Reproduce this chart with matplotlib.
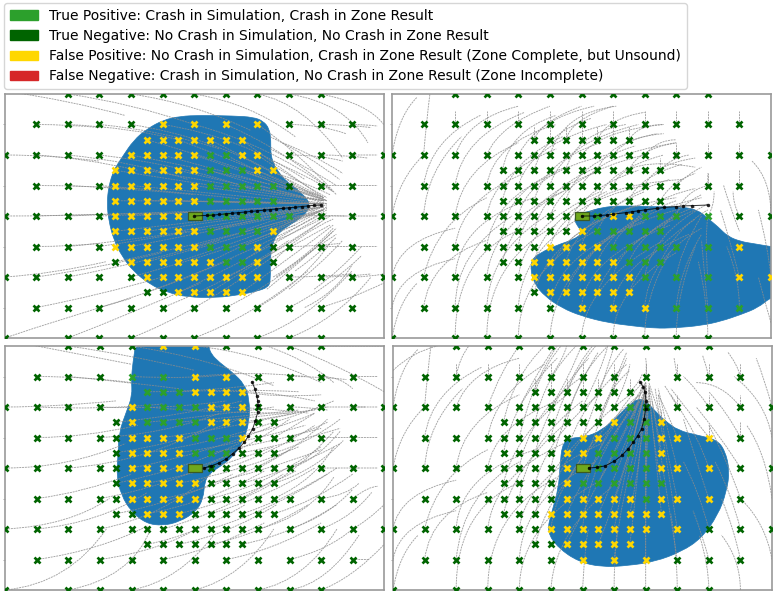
import matplotlib
matplotlib.use('Agg')
import matplotlib.pyplot as plt
from matplotlib.patches import Patch, PathPatch, Rectangle
from matplotlib.path import Path

W, H = 778, 597

legend_labels = ['True Positive: Crash in Simulation, Crash in Zone Result',
                 'True Negative: No Crash in Simulation, No Crash in Zone Result',
                 'False Positive: No Crash in Simulation, Crash in Zone Result (Zone Complete, but Unsound)',
                 'False Negative: Crash in Simulation, No Crash in Zone Result (Zone Incomplete)']

# start positions of the simulated cases, row by row
coarse = [-60, -50, -40, -30]
fine = [-25, -20, -15, -10, -5, 0, 5, 10, 15, 20, 25]
mid = [-15, -10, -5, 0, 5, 10, 15]
grid_rows = {40: [-40, -30, -20, -10, 0, 10, 20, 30, 40],
             30: [-50, -40, -30, -20, -10, 0, 10, 20, 30, 40, 50],
             25: mid,
             20: [-60, -50, -40, -30, -20] + mid + [20, 30, 40, 50, 60],
             15: fine,
             10: [-50, -40, -30] + fine + [30, 40, 50],
             5: fine,
             0: coarse + fine + [30, 40, 50, 60],
             -5: fine,
             -10: [-50, -40, -30] + fine + [30, 40, 50],
             -15: fine,
             -20: [-60, -50, -40, -30, -20] + mid + [20, 30, 40, 50, 60],
             -25: mid,
             -30: [-50, -40, -30, -20, -10, 0, 10, 20, 30, 40, 50],
             -40: [-60, -40, -30, -20, -10, 0, 10, 20, 30, 40]}

fp_1 = {30: [-10, 0, 10, 20], 25: mid, 20: [-20, -15, -10, -5, 0, 15, 20],
        15: [-25, -20, -15, -10, -5, 0, 20, 25], 10: [-25, -20, -15, -10, -5, 0],
        5: [-25, -20, -15, -10, -5, 0], 0: [-25, -20, -15, -10, -5],
        -5: [-25, -20, -15, -10, -5, 0, 25], -10: [-25, -20, -15, -10, -5, 0, 20],
        -15: [-20, -15, -10, -5, 0, 5, 20], -20: [-15, -10, -5, 0, 5, 10, 15, 20],
        -25: [-5, 0, 5, 10, 15]}
tp_1 = {20: [5, 10], 15: [5, 10, 15], 10: [5, 10, 15, 20, 25], 5: [5, 10, 15, 20, 25],
        0: [0, 5, 10, 15, 20, 25, 30], -5: [5, 10, 15, 20], -10: [5, 10, 15], -15: [10, 15]}

fp_2 = {0: [10, 15], -5: [0], -10: [-10, -5, 0, 5, 50], -15: [-15, -10, -5, 0, 5, 10],
        -20: [-15, -10, -5, 0, 5, 10, 15, 50, 60], -25: [-10, -5, 0, 5, 10, 15],
        -30: [0, 10, 20]}
tp_2 = {0: [0, 5, 20, 25, 30, 40], -5: [5, 10, 15, 20, 25], -10: [10, 15, 20, 25, 30, 40],
        -15: [15, 20, 25], -20: [20, 30, 40], -30: [30, 40, 50]}

fp_3 = {40: [-10, 0], 30: [0, 10], 25: [0, 5, 10, 15], 20: [-20, 5, 10, 15],
        15: [-20, 5, 10, 15], 10: [-20, -15, -10, -5, 15], 5: [-20, -15, -10, -5],
        0: [-20, -15, -10, -5], -5: [-20, -15, -10, -5, 0], -10: [-20, -15, -10, -5, 0],
        -15: [-15, -10, -5]}
tp_3 = {30: [-20, -10], 25: [-15, -10, -5], 20: [-15, -10, -5, 0], 15: [-15, -10, -5, 0],
        10: [0, 5, 10], 5: [0, 5, 10], 0: [0]}

fp_4 = {15: [10, 25], 10: [0, 5, 25, 30, 40], 5: [-5, 0, 25], 0: [-5, 25, 30, 40], -5: [-5],
        -10: [-5, 0, 5, 10, 15, 25, 30, 40], -15: [-10, -5, 0, 5, 10, 15, 20, 25],
        -20: [-10, -5, 0, 5, 10, 15, 20, 30], -25: [-5, 0, 5, 10, 15], -30: [0, 10, 20]}
tp_4 = {20: [15], 15: [15, 20], 10: [10, 15, 20], 5: [5, 10, 15, 20], 0: [0, 5, 10, 15, 20],
        -5: [0, 5, 10, 15, 20, 25], -10: [20]}

# zone outlines
zone_x_1 = [-9.7, -4.4, 1.9, 12.4, 18.7, 21.9, 23.8, 24.3, 24.2, 25.1, 26.6, 29.3, 32.4, 35.1, 36.6, 35.8, 33.5, 30.3, 27.2, 25.1, 24.0, 24.2, 23.5, 19.8, 14.5, 7.2, -2.3, -8.6, -13.9, -19.2, -22.8, -25.5, -27.1, -27.6, -27.1, -25.5, -22.8, -19.2, -14.9]
zone_y_1 = [31.5, 32.7, 33.0, 32.8, 32.4, 31.1, 28.6, 24.8, 20.4, 17.2, 14.5, 11.2, 9.0, 6.3, 4.1, 1.4, -0.8, -2.9, -5.1, -7.8, -13.3, -20.9, -23.3, -24.7, -25.8, -26.8, -26.6, -25.0, -22.5, -18.2, -13.3, -7.8, -1.3, 4.1, 9.6, 15.0, 19.3, 24.8, 28.6]
zone_x_2 = [2.1, 6.3, 12.6, 23.2, 31.6, 36.8, 40, 43.2, 46.3, 50.5, 54.7, 59.8, 61.5, 61.5, 59.8, 55.8, 50.5, 44.2, 37.9, 29.5, 23.2, 16.8, 8.4, 0, -6.3, -11.6, -14.7, -16.1, -15.8, -13.1, -7.7, -2.6, 0.5, -1.6, -2.3, -1.1]
zone_y_2 = [1.4, 2.8, 3.4, 3.0, 3.0, 2.0, -0.8, -3.5, -6.7, -8.4, -9.1, -10, -10.2, -26.5, -26.8, -30.1, -32.3, -34.5, -35.9, -36.7, -36.8, -36.1, -35, -32.8, -30.1, -26.3, -22.5, -18.2, -14.3, -12.1, -9.5, -7.8, -5.5, -2.9, -0.7, 0.7]
zone_x_3 = [-18.5, -19.6, -20.1, -19.8, -21.7, -24, -24.3, -24.8, -23.3, -20.1, -15.4, -10.1, -4.8, 0.4, 2.7, 3.1, 4.6, 7.8, 12, 15.2, 17.3, 17.3, 15.7, 12, 7.8, 5.2, 4.4, 4.2]
zone_y_3 = [42, 34.6, 29.1, 23.7, 18.3, 11.7, 4.1, -2.4, -8.9, -14.3, -18.2, -18.9, -17.6, -14.3, -10, -4.6, -1.8, 0.3, 3.6, 8.5, 15, 22.6, 27.5, 31.3, 34.6, 37.3, 39.8, 42]
zone_x_4 = [17.9, 20.3, 22.9, 26.1, 30.3, 36.6, 42.4, 45.1, 46.6, 45.6, 42.9, 37.7, 31.4, 22.9, 14.5, 6.1, -1.3, -7.6, -11.3, -9.7, -7.6, -7.1, -6.5, -4.4, 0.8, 6.1, 11.4, 15.1]
zone_y_4 = [22.8, 21.7, 18.8, 15.5, 12.3, 10.7, 9.3, 5.8, -0.8, -7.8, -15.4, -23, -27.4, -30.7, -32, -32.5, -30.7, -26.3, -20.9, -14.3, -6.7, 0.9, 7.4, 9.8, 10.1, 12.3, 17.2, 21]

# ego path
ego_x_1 = [0, 4, 6, 8, 10, 12, 14, 16, 18, 20, 22, 24, 26, 28, 30, 32, 34, 36, 38, 40]
ego_y_1 = [0, 0.2, 0.3, 0.5, 0.7, 0.9, 1.1, 1.3, 1.5, 1.7, 1.9, 2.1, 2.3, 2.5, 2.7, 2.9, 3.1, 3.3, 3.5, 3.6]
ego_x_2 = [0, 4, 6, 8, 10, 14, 16, 18, 20, 24, 26, 30, 32, 35, 40]
ego_y_2 = [0, 0, 0.2, 0.3, 0.6, 1.1, 1.4, 1.7, 2.0, 2.5, 2.8, 3.1, 3.3, 3.4, 3.6]
ego_x_3 = [3, 5, 7.8, 10, 12, 14, 15.7, 17, 18.3, 19.2, 19.9, 20, 19.9, 19.6, 19, 18.1]
ego_y_3 = [0, 0.6, 1.7, 3, 4.7, 6.5, 8.5, 10.5, 12.8, 15.5, 18.3, 20.5, 22, 23.7, 26, 28.3]
ego_x_4 = [1.9, 4.5, 7.2, 10, 12.4, 14.4, 16.1, 17.5, 18.7, 19.5, 20, 20.1, 19.8, 19.2, 18.2]
ego_y_4 = [0, 0.2, 0.7, 2.2, 4.1, 6.2, 8.5, 10.6, 12.8, 16, 19.3, 22, 24.8, 26.6, 28.3]

# simulated paths: x0, y0, xc, yc, x1, y1
trails_1 = [(-60, 41, -40, 38, -22, 33), (-40, 40, -20, 37, 0, 30), (-20, 40, 0, 37, 18, 28), (0, 40, 18, 37, 32, 26),
            (20, 40, 35, 37, 47, 19), (30, 40, 48, 37, 55, 24), (40, 40, 55, 37, 60, 30),
            (-50, 30, -40, 30, -30, 29), (-40, 30, -20, 29, -5, 25), (-30, 30, -10, 28, 8, 22), (-20, 30, 5, 26, 25, 14),
            (-10, 30, 15, 26, 35, 12), (0, 30, 22, 24, 43, 9), (10, 30, 28, 22, 44, 8), (20, 30, 32, 22, 45, 7),
            (30, 30, 40, 30, 48, 27), (40, 30, 48, 30, 56, 29), (50, 30, 54, 30, 58, 29.5),
            (-60, 20, -45, 20, -30, 18), (-50, 20, -35, 19, -18, 15), (-40, 20, -20, 18, -2, 12), (-30, 20, -5, 17, 18, 9),
            (-20, 20, 10, 14, 38, 7), (-10, 20, 15, 13, 41, 5.5), (0, 20, 20, 13, 42, 5), (10, 20, 25, 12, 42, 5), (20, 20, 30, 13, 42, 6),
            (30, 20, 40, 20, 47, 18), (40, 20, 48, 20, 55, 19), (50, 20, 54, 20, 58, 20),
            (-50, 10, -35, 10, -20, 9), (-40, 10, -20, 9, 0, 7), (-30, 10, -5, 8, 20, 5), (-20, 10, 10, 7, 40, 4), (0, 10, 20, 7, 42, 4),
            (20, 10, 32, 7, 42, 4), (40, 10, 44, 10, 50, 10), (50, 10, 54, 10, 58, 10),
            (-60, 0, -45, 0, -30, 0.5), (-50, 0, -30, 0.6, -10, 1), (-40, 0, -15, 1, 10, 2), (-30, 0, 0, 1, 30, 3), (-20, 0, 10, 2, 40, 3.6),
            (10, 0, 25, 1, 42, 3.6), (30, 0, 40, 0.3, 48, 0), (40, 0, 45, 0, 50, 0), (50, 0, 54, 0, 58, 0),
            (-50, -10, -40, -10, -30, -9), (-40, -10, -20, -8, -2, -5), (-30, -10, -5, -6, 22, -1), (-20, -10, 10, -4, 38, 2), (0, -10, 20, -4, 42, 2.5),
            (15, -10, 30, -5, 42, 3), (30, -10, 38, -10, 46, -9), (40, -10, 45, -10, 50, -10), (50, -10, 54, -10, 58, -10),
            (-60, -20, -45, -19, -28, -15), (-50, -20, -30, -17, -10, -12), (-40, -20, -15, -15, 8, -8), (-20, -20, 5, -13, 32, -3), (10, -20, 27, -12, 40, -2),
            (25, -20, 35, -14, 44, -4), (30, -20, 40, -20, 50, -19), (40, -20, 47, -20, 56, -19), (50, -20, 55, -20, 60, -19),
            (-50, -30, -30, -26, -10, -20), (-30, -30, -10, -24, 12, -14), (-10, -30, 10, -22, 30, -8), (10, -30, 28, -21, 44, -5), (20, -30, 34, -22, 43, -9),
            (30, -30, 42, -24, 53, -13), (40, -30, 50, -27, 60, -22),
            (-60, -40, -40, -33, -20, -27), (-40, -40, -20, -32, 2, -22), (-20, -40, 0, -32, 24, -14), (0, -40, 18, -33, 36, -18), (20, -40, 36, -34, 50, -18), (30, -40, 45, -34, 56, -20),
            (-25, 15, 10, 9, 41, 5), (-15, 15, 12, 10, 41, 5), (-5, 15, 18, 9, 41, 5), (5, 15, 22, 9, 41, 5), (15, 15, 28, 10, 41, 5), (25, 15, 33, 9, 42, 5),
            (-25, 5, 8, 5, 41, 4), (-15, 5, 12, 5, 41, 4), (-5, 5, 18, 4, 41, 4), (5, 5, 22, 4, 41, 4), (15, 5, 28, 4, 41, 4), (25, 5, 33, 4, 41, 4),
            (-25, -5, 8, -1, 41, 3), (-15, -5, 12, -1, 41, 3), (-5, -5, 18, -1, 41, 3), (5, -5, 22, 0, 41, 3), (15, -5, 28, 0, 41, 3), (25, -5, 33, 0, 41, 3),
            (-25, -15, 8, -8, 41, 2), (-15, -15, 12, -8, 41, 2), (-5, -15, 18, -7, 41, 2), (5, -15, 22, -6, 41, 2), (15, -15, 28, -6, 42, 2), (25, -15, 33, -6, 44, -1),
            (-15, 25, 12, 17, 41, 6), (-5, 25, 18, 16, 41, 6), (5, 25, 22, 16, 41, 6), (15, 25, 28, 15, 41, 6),
            (-15, -25, 12, -15, 41, 1), (-5, -25, 18, -14, 42, 1), (5, -25, 22, -14, 43, 0), (15, -25, 30, -14, 44, -3),
            (24, 22, 36, 16, 45, 10), (24, 26, 36, 20, 46, 12), (25, 18, 36, 13, 44, 8), (26, 14, 35, 11, 43, 7), (28, 24, 38, 20, 47, 14),
            (23, -24, 35, -14, 45, -4), (26, -20, 36, -12, 45, -6), (24, -14, 34, -8, 43, -3), (30, -24, 40, -16, 47, -8), (32, -18, 40, -12, 45, -7),
            (26, -8, 35, -4, 42, 0), (38, -24, 46, -18, 53, -10), (35, -30, 45, -25, 50, -16)]

trails_2 = [(-60, -40, -58, -28, -52, -22), (-60, -30, -58, -18, -40, -14), (-60, -20, -58, -8, -40, -4), (-60, 0, -58, 12, -50, 20), (-60, 20, -58, 33, -52, 39),
            (-50, -30, -48, -14, -30, -8), (-50, -20, -46, -2, -30, 6), (-50, 0, -49, 15, -38, 26), (-50, 20, -49, 32, -48, 40), (-50, 10, -48, 25, -32, 33),
            (-40, -40, -40, -12, -18, -4), (-40, -30, -40, -12, -22, 0), (-40, -20, -39, -2, -15, 6), (-40, -10, -38, 6, -18, 14), (-40, 0, -38, 16, -20, 24), (-40, 10, -38, 26, -18, 34), (-40, 20, -36, 32, -20, 36),
            (-30, -40, -30, -15, -8, -3), (-30, -30, -29, -10, -8, 2), (-30, -20, -28, -2, -6, 8), (-30, -10, -28, 6, -8, 14), (-30, 0, -28, 14, -8, 22), (-30, 10, -28, 24, -8, 30), (-30, 20, -26, 30, -10, 36),
            (-20, -40, -20, -18, 6, -4), (-20, -30, -19, -10, 4, 2), (-20, -20, -18, -3, 6, 8), (-20, -10, -18, 6, 4, 14), (-20, 0, -17, 14, 8, 20), (-20, 10, -16, 24, 8, 30), (-20, 20, -14, 32, 4, 36),
            (-10, 10, -6, 24, 18, 30), (-10, 20, -6, 34, 11, 36), (-10, 0, -5, 14, 20, 20), (-10, -10, -6, 4, 20, 10), (-10, -20, -8, -4, 20, 4), (-10, -30, -8, -12, 20, -2), (-10, -40, -9, -20, 12, -4),
            (0, -40, 1, -22, 26, -8), (0, -30, 1, -14, 28, -3), (0, -20, 2, -6, 30, 2), (0, -10, 2, 2, 30, 6), (0, 0, 4, 10, 32, 12), (0, 10, 5, 20, 30, 24), (0, 20, 6, 28, 26, 30),
            (10, -40, 10, -24, 30, -12), (10, -30, 11, -16, 34, -6), (10, -20, 12, -8, 36, 2), (10, -10, 13, 0, 38, 6), (10, 10, 14, 20, 36, 16), (10, 20, 14, 26, 26, 27),
            (20, -40, 20, -26, 28, -12), (20, -30, 21, -14, 38, -4), (20, -20, 22, -6, 40, 4), (20, 10, 23, 17, 36, 19), (20, 20, 24, 25, 30, 25),
            (30, -40, 30, -26, 36, -10), (30, -30, 31, -18, 38, -6), (30, -20, 31, -12, 38, 0), (30, 0, 32, 8, 40, 10), (30, 10, 34, 14, 38, 16),
            (40, -40, 40, -28, 37, -15), (40, -30, 39, -20, 38, -8), (40, -20, 39, -8, 40, 0), (40, 0, 42, 3, 42, 8), (40, 10, 40, 12, 40, 14), (50, -30, 50, -20, 46, -10), (50, -20, 47, -8, 44, 2), (50, 0, 48, 4, 48, 8), (45, 10, 47, 3, 50, -5), (60, -35, 58, -28, 56, -20), (60, -20, 59, -10, 56, 2),
            (54, 18, 60, 12, 60, 0),
            (-15, 25, -13, 31, 0, 36), (-5, 25, -3, 32, 10, 36), (5, 25, 8, 32, 20, 34), (15, 25, 18, 30, 26, 30),
            (-25, 15, -23, 28, -8, 33), (-15, 15, -12, 27, 3, 32), (-5, 15, -2, 27, 14, 30), (5, 15, 8, 24, 24, 27), (15, 15, 18, 22, 30, 24), (25, 15, 28, 19, 34, 20),
            (-25, 5, -23, 18, -6, 26), (-15, 5, -12, 18, 6, 24), (-5, 5, -2, 17, 17, 23), (5, 5, 8, 15, 26, 20), (15, 5, 18, 13, 32, 17), (25, 5, 28, 11, 36, 14),
            (-25, -5, -23, 9, -5, 16), (-15, -5, -12, 9, 5, 16), (-5, -5, -2, 8, 18, 15), (5, -5, 9, 6, 28, 12), (15, -5, 19, 5, 36, 9), (25, -5, 30, 3, 38, 7),
            (-25, -15, -22, 0, -4, 9), (-15, -15, -12, -1, 8, 8), (-5, -15, -1, -1, 20, 8), (5, -15, 10, -2, 30, 5), (15, -15, 20, -3, 36, 3), (25, -15, 30, -4, 40, 2),
            (-15, -25, -11, -10, 8, 0), (-5, -25, 0, -11, 20, 0), (5, -25, 10, -11, 30, 0), (15, -25, 20, -12, 36, -1)]

short_up = [(-40, 30, 34.5), (-30, 30, 34.5), (-20, 30, 34.5), (-10, 30, 34.5), (0, 30, 34.5), (10, 30, 34.5), (20, 30, 34.5), (30, 30, 34.5), (40, 30, 34.5), (50, 30, 34.5),
            (-15, 25, 29.5), (-10, 25, 29.5), (-5, 25, 29.5), (0, 25, 29.5), (5, 25, 29.5), (10, 25, 29.5), (15, 25, 29.5),
            (30, 20, 24), (40, 20, 24), (50, 20, 24), (25, 15, 19), (40, 10, 14), (50, 10, 15)]

trails_3 = [(-60, 42, -40, 38, -20, 34), (-40, 40, -20, 37, 0, 32), (-20, 40, 5, 36, 25, 27), (0, 40, 20, 38, 40, 28), (20, 41, 35, 36, 44, 28), (30, 40, 45, 34, 60, 25), (40, 40, 50, 40, 60, 40),
            (-50, 30, -35, 30, -20, 28), (-40, 30, -20, 28, -5, 26), (-20, 30, 0, 29, 14, 31), (0, 30, 18, 32, 35, 30), (30, 30, 40, 30, 48, 29), (40, 30, 46, 30, 50, 26), (50, 30, 54, 30, 58, 30),
            (-60, 20, -45, 20, -25, 22), (-50, 20, -30, 19, -10, 21), (-30, 20, -10, 19, 10, 22), (-15, 20, 5, 18, 30, 18), (5, 20, 20, 20, 36, 18), (30, 20, 36, 20, 42, 19), (40, 20, 46, 20, 54, 20), (50, 20, 54, 20, 58, 20),
            (-50, 10, -35, 10, -18, 14), (-30, 10, -10, 11, 8, 18), (-10, 10, 10, 13, 32, 18), (10, 10, 25, 12, 38, 18), (25, 10, 32, 14, 38, 18), (30, 10, 36, 12, 42, 15), (40, 10, 45, 10, 50, 10), (50, 10, 54, 10, 58, 10),
            (-60, 0, -40, 0, -22, 8), (-40, 0, -15, 2, 5, 14), (-20, 0, 5, 5, 25, 14), (0, 0, 15, 5, 30, 16), (10, 0, 25, 5, 38, 14), (20, 0, 32, 6, 42, 16), (30, 0, 38, 2, 46, 12), (40, 0, 45, 0, 52, 0), (50, 0, 54, 0, 58, 0),
            (-50, -10, -35, -8, -20, -2), (-30, -10, -8, -6, 10, 4), (-10, -10, 10, -6, 30, 6), (5, -10, 22, -6, 40, 7), (15, -10, 30, -4, 44, 12), (25, -10, 38, -4, 44, 7), (40, -10, 48, -9, 52, -5), (50, -10, 55, -6, 58, -6),
            (-60, -20, -40, -19, -27, -10), (-50, -20, -30, -18, -15, -8), (-30, -20, -10, -16, 5, -2), (-10, -20, 10, -14, 28, -2), (5, -20, 24, -14, 42, -2), (20, -20, 36, -16, 44, -3), (30, -20, 42, -16, 50, -7), (40, -20, 50, -16, 56, -8), (50, -20, 55, -17, 60, -12),
            (-50, -30, -30, -27, -15, -19), (-30, -30, -10, -27, 2, -19), (-10, -30, 5, -27, 22, -18), (10, -30, 25, -27, 40, -18), (30, -30, 42, -27, 50, -20), (50, -30, 52, -30, 55, -30),
            (-60, -40, -40, -38, -28, -20), (-40, -40, -20, -36, -14, -20), (-20, -40, -5, -37, 6, -22), (0, -40, 15, -36, 25, -20), (20, -40, 35, -37, 45, -20), (40, -40, 50, -36, 60, -25), (30, -40, 42, -38, 52, -22),
            (-15, 25, 5, 25, 25, 28), (-5, 25, 15, 26, 33, 25), (5, 25, 20, 26, 38, 22), (15, 25, 25, 23, 40, 24),
            (-25, 15, -5, 17, 15, 22), (-15, 15, 5, 17, 25, 20), (-5, 15, 15, 17, 33, 19), (5, 15, 20, 17, 38, 19), (15, 15, 28, 17, 42, 20), (25, 15, 35, 18, 44, 22),
            (-25, 5, -5, 8, 14, 16), (-15, 5, 5, 8, 25, 15), (-5, 5, 15, 8, 35, 14), (5, 5, 22, 8, 40, 13), (15, 5, 30, 8, 46, 13), (25, 5, 36, 8, 46, 16),
            (-25, -5, -5, -1, 14, 8), (-15, -5, 5, -1, 25, 7), (-5, -5, 15, -1, 33, 7), (5, -5, 22, -1, 40, 6), (15, -5, 30, -1, 46, 8), (25, -5, 38, -1, 47, 9),
            (-25, -15, -5, -11, 12, -2), (-15, -15, 5, -11, 22, -1), (-5, -15, 15, -10, 32, -1), (5, -15, 22, -10, 38, 0), (15, -15, 30, -10, 45, 0), (25, -15, 38, -11, 50, -2),
            (-15, -25, 0, -22, 16, -12), (-5, -25, 10, -22, 26, -12), (5, -25, 20, -22, 36, -12), (15, -25, 30, -22, 45, -12)]

trails_4 = [(-60, -40, -58, -28, -52, -22), (-60, -30, -58, -18, -40, -14), (-60, -20, -58, -8, -40, -4), (-60, 0, -58, 12, -50, 20), (-60, 20, -58, 33, -52, 39),
            (-50, -30, -48, -14, -30, -8), (-50, -20, -46, -2, -30, 6), (-50, 0, -49, 15, -38, 26), (-50, 20, -49, 32, -48, 40), (-50, 10, -48, 25, -32, 33),
            (-40, -40, -40, -12, -18, -4), (-40, -20, -39, -2, -15, 6), (-40, 0, -38, 16, -20, 24), (-40, 20, -36, 32, -20, 36), (-40, 30, -39, 36, -36, 40),
            (-30, -40, -30, -15, -8, -3), (-30, -20, -28, -2, -6, 8), (-30, 0, -28, 14, -8, 22), (-30, 10, -28, 24, -12, 34), (-30, 20, -26, 32, -20, 40),
            (-20, -40, -20, -18, 6, -4), (-20, -30, -19, -10, 4, 2), (-20, -20, -18, -3, 6, 8), (-20, -10, -18, 8, 0, 22), (-20, 0, -17, 18, 0, 30), (-20, 10, -16, 28, -8, 40), (-20, 20, -14, 32, -8, 41),
            (-10, -40, -9, -20, 12, -4), (-10, -20, -8, -2, 10, 14), (-10, -10, -6, 8, 15, 24), (-10, 0, -6, 20, 5, 38), (-10, 10, -6, 28, 5, 41), (-10, 20, -4, 30, 0, 41), (-10, 30, -6, 36, -5, 40),
            (0, -40, 1, -22, 2, -20), (0, -20, 2, 2, 16, 20), (0, -10, 4, 10, 20, 26), (0, 0, 6, 18, 14, 36), (0, 10, 6, 26, 10, 40), (0, 20, 6, 32, 8, 40), (5, 15, 10, 28, 14, 38),
            (10, -40, 10, -30, 11, -20), (10, -30, 12, -10, 20, 20), (10, -20, 14, 2, 20, 26), (10, -10, 16, 8, 20, 26), (10, 0, 16, 12, 19, 28), (10, 10, 15, 20, 20, 28), (10, 20, 14, 28, 15, 34),
            (20, -40, 20, -28, 20, -16), (20, -30, 20, -5, 20, 24), (20, -20, 20, 0, 21, 26), (20, -10, 20, 8, 20, 26), (20, 0, 21, 12, 20, 28), (20, 10, 21, 20, 20, 28), (20, 30, 20.5, 33, 20, 36),
            (30, -40, 30, -28, 28, -15), (30, -30, 27, -10, 22, 22), (30, -20, 27, 0, 23, 26), (30, -10, 26, 8, 24, 24), (30, 0, 27, 12, 24, 26), (30, 10, 27, 18, 24, 24), (30, 20, 28, 24, 26, 27), (30, 30, 29.5, 33, 29, 36),
            (40, -40, 40, -32, 37, -22), (40, -30, 38, -22, 35, -14), (40, -20, 37, -8, 32, 2), (40, -10, 36, 2, 32, 16), (40, 0, 37, 10, 28, 24), (40, 10, 34, 18, 28, 26), (40, 20, 36, 26, 32, 30), (40, 30, 39, 34, 38, 37),
            (50, -40, 50, -30, 44, -22), (50, -30, 48, -20, 44, -10), (50, -20, 47, -8, 42, 2), (50, -10, 46, 2, 40, 14), (50, 0, 44, 10, 36, 20), (50, 10, 46, 18, 40, 25), (50, 20, 44, 28, 36, 28), (50, 30, 49, 34, 46, 38),
            (60, -30, 58, -18, 50, -10), (60, -10, 58, 5, 52, 14), (60, 10, 58, 22, 48, 30), (60, 20, 58, 28, 55, 36),
            (-60, 32, -54, 38, -46, 40), (-40, -30, -38, -8, -20, 2),
            (-15, 25, -12, 34, -6, 41), (-5, 25, -2, 34, 4, 41), (5, 25, 8, 33, 13, 39), (15, 25, 18, 28, 19, 31),
            (-25, 15, -22, 30, -12, 40), (-15, 15, -12, 30, -2, 40), (-5, 15, -2, 30, 8, 40), (5, 15, 8, 26, 15, 32), (15, 15, 18, 24, 20, 28), (25, 15, 23, 22, 21, 28),
            (-25, 5, -22, 22, -8, 36), (-15, 5, -11, 22, 2, 36), (-5, 5, -1, 21, 14, 34), (5, 5, 10, 18, 19, 28), (15, 5, 18, 17, 20, 27), (25, 5, 23, 18, 21, 27),
            (-25, -5, -22, 10, -5, 24), (-15, -5, -11, 10, 5, 24), (-5, -5, 2, 10, 18, 24), (5, -5, 13, 10, 20, 26), (15, -5, 19, 10, 20, 27), (25, -5, 22, 10, 21, 27),
            (-25, -15, -22, 0, -6, 14), (-15, -15, -11, 1, 4, 14), (-5, -15, 3, 3, 18, 22), (5, -15, 14, 5, 20, 26), (15, -15, 19, 5, 20, 27), (25, -15, 23, 5, 21, 26),
            (-15, -25, -11, -10, 0, 2), (-5, -25, 5, -5, 18, 22), (5, -25, 14, -2, 20, 26), (15, -25, 18, 0, 20, 26)]

panels = [(4.7, 94, zone_x_1, zone_y_1, fp_1, tp_1, ego_x_1, ego_y_1, trails_1),
          (392, 94, zone_x_2, zone_y_2, fp_2, tp_2, ego_x_2, ego_y_2, trails_2),
          (5.3, 346, zone_x_3, zone_y_3, fp_3, tp_3, ego_x_3, ego_y_3, trails_3),
          (393, 346, zone_x_4, zone_y_4, fp_4, tp_4, ego_x_4, ego_y_4, trails_4)]

trail_style = dict(color='#8c8c8c', lw=0.65, ls=(0, (2.2, 0.9)), alpha=0.8, zorder=3)

def zone_path(xs, ys):
    # closed outline, rounded through the read points
    pts = list(zip(xs, ys))
    mids = [((a[0] + b[0]) / 2, (a[1] + b[1]) / 2) for a, b in zip(pts, pts[1:] + pts[:1])]
    verts = [mids[-1]]
    codes = [Path.MOVETO]
    for p, m in zip(pts, mids):
        verts += [p, m]
        codes += [Path.CURVE3, Path.CURVE3]
    return Path(verts, codes)

def draw_panel(fig, left, top, zone_x, zone_y, fp, tp, ego_x, ego_y, trails):
    ax = fig.add_axes([left / W, 1 - (top + 244) / H, 379 / W, 244 / H])
    ax.set_xlim(-60, 60)
    ax.set_ylim(-40, 40)
    ax.add_patch(PathPatch(zone_path(zone_x, zone_y), fc='tab:blue', ec='tab:blue', lw=0.5, zorder=1))
    for y, xs in grid_rows.items():
        for x in xs:
            if x in fp.get(y, []):
                c = 'gold'
            elif x in tp.get(y, []):
                c = 'tab:green'
            else:
                c = 'darkgreen'
            ax.plot(x, y, 'x', color=c, ms=4.7, mew=1.9, zorder=4)
    for x0, y0, xc, yc, x1, y1 in trails:
        p = Path([(x0, y0), (xc, yc), (x1, y1)], [Path.MOVETO, Path.CURVE3, Path.CURVE3])
        ax.add_patch(PathPatch(p, fc='none', ec=trail_style['color'], lw=trail_style['lw'], ls=trail_style['ls'],
                               alpha=trail_style['alpha'], zorder=3))
    if trails is trails_2 or trails is trails_4:
        for x, y0, y1 in short_up:
            ax.plot([x, x], [y0, y1], **trail_style)
    ax.add_patch(Rectangle((-2, -1.3), 4.4, 2.6, fc='#6fa81c', ec='#3c5a22', lw=0.9, zorder=5))
    ax.plot(ego_x, ego_y, '-', color='black', lw=0.7, alpha=0.8, zorder=6)
    ax.plot(ego_x, ego_y, 'o', color='black', ms=2.5, alpha=0.85, mew=0, zorder=6)
    ax.set_xticks([])
    ax.set_yticks([-30, -10, 10, 30])
    ax.set_yticklabels([])
    ax.tick_params(axis='y', length=1.5, width=0.5, color='#888888')
    for s in ax.spines.values():
        s.set_color('#9a9a9a')
        s.set_linewidth(1.2)

fig = plt.figure(figsize=(W / 100, H / 100), dpi=100)
for left, top, zx, zy, fp, tp, ex, ey, tr in panels:
    draw_panel(fig, left, top, zx, zy, fp, tp, ex, ey, tr)

handles = [Patch(color='tab:green'), Patch(color='darkgreen'), Patch(color='gold'), Patch(color='tab:red')]
fig.legend(handles, legend_labels, loc='upper left', bbox_to_anchor=(0.0013, 1.0), fontsize=10.03,
           labelspacing=0.44, borderaxespad=0.25, framealpha=0.8)
fig.savefig('out.png', dpi=100)
